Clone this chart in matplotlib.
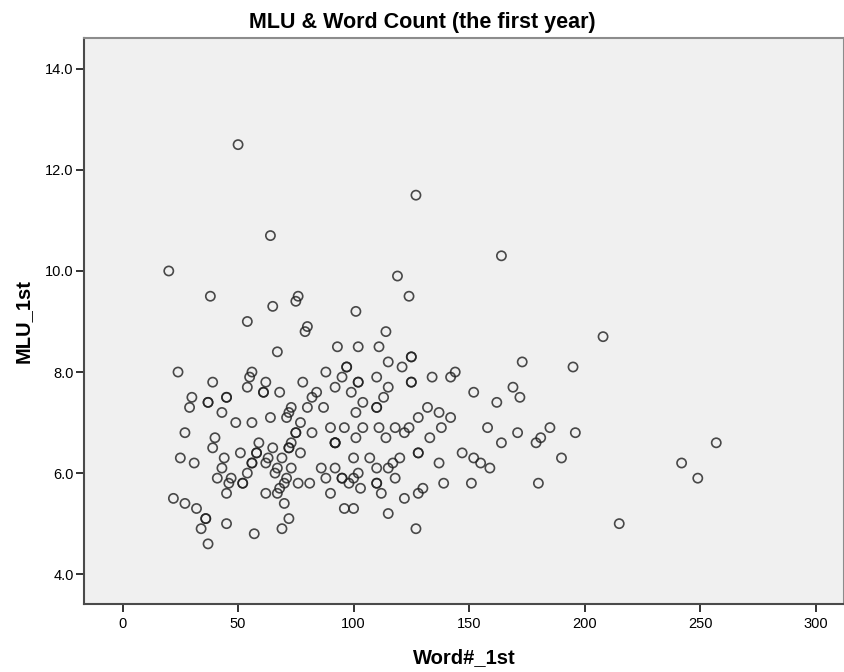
import numpy as np
import matplotlib
matplotlib.use("Agg")
import matplotlib.pyplot as plt
from matplotlib.ticker import FormatStrFormatter

plt.rcParams['font.family'] = ['Liberation Sans', 'DejaVu Sans']

title = "MLU & Word Count (the first year)"
x_label = "Word#_1st"
y_label = "MLU_1st"

# points, (word count, MLU)
word_count = [
    50, 64, 20, 38, 65, 76, 75, 54, 80, 79, 67, 93,
    127, 164, 119, 124, 101, 114, 102, 111, 115, 125, 125, 173,
    208, 195, 196, 190, 257, 242, 249, 215,
    24, 56, 55, 88, 39, 62, 78, 54, 61, 61, 68, 92, 84, 82, 30, 37, 37, 45, 45,
    29, 73, 72, 71, 80, 87, 43, 64, 49, 56, 77, 27, 75, 75, 82, 90, 40, 39, 59,
    65, 73, 72, 72, 92, 92, 92, 77, 25, 31, 44, 51, 58, 58, 63, 69, 56, 56, 62,
    43, 67, 73, 86, 92, 54, 66, 41, 47, 46, 52, 52, 71, 70, 76, 81, 88, 68, 45,
    62, 67, 90, 22, 27, 32, 70, 36, 36, 45, 72, 34, 57, 69, 37,
    121, 97, 97, 144, 142, 134, 110, 95, 102, 102, 125, 125, 99, 115, 152, 169,
    113, 172, 104, 162, 110, 110, 101, 132, 137, 128, 142, 96, 104, 111, 118,
    124, 122, 138, 158, 185, 101, 114, 133, 171, 181, 179, 164, 128, 128, 100,
    107, 120, 117, 115, 110, 147, 152, 155, 159, 137, 95, 95, 100, 102, 98, 103,
    110, 110, 118, 112, 122, 128, 130, 139, 151, 180, 96, 100, 115, 127,
]
mlu = [
    12.5, 10.7, 10.0, 9.5, 9.3, 9.5, 9.4, 9.0, 8.9, 8.8, 8.4, 8.5,
    11.5, 10.3, 9.9, 9.5, 9.2, 8.8, 8.5, 8.5, 8.2, 8.3, 8.3, 8.2,
    8.7, 8.1, 6.8, 6.3, 6.6, 6.2, 5.9, 5.0,
    8.0, 8.0, 7.9, 8.0, 7.8, 7.8, 7.8, 7.7, 7.6, 7.6, 7.6, 7.7, 7.6, 7.5, 7.5, 7.4, 7.4, 7.5, 7.5,
    7.3, 7.3, 7.2, 7.1, 7.3, 7.3, 7.2, 7.1, 7.0, 7.0, 7.0, 6.8, 6.8, 6.8, 6.8, 6.9, 6.7, 6.5, 6.6,
    6.5, 6.6, 6.5, 6.5, 6.6, 6.6, 6.6, 6.4, 6.3, 6.2, 6.3, 6.4, 6.4, 6.4, 6.3, 6.3, 6.2, 6.2, 6.2,
    6.1, 6.1, 6.1, 6.1, 6.1, 6.0, 6.0, 5.9, 5.9, 5.8, 5.8, 5.8, 5.9, 5.8, 5.8, 5.8, 5.9, 5.7, 5.6,
    5.6, 5.6, 5.6, 5.5, 5.4, 5.3, 5.4, 5.1, 5.1, 5.0, 5.1, 4.9, 4.8, 4.9, 4.6,
    8.1, 8.1, 8.1, 8.0, 7.9, 7.9, 7.9, 7.9, 7.8, 7.8, 7.8, 7.8, 7.6, 7.7, 7.6, 7.7,
    7.5, 7.5, 7.4, 7.4, 7.3, 7.3, 7.2, 7.3, 7.2, 7.1, 7.1, 6.9, 6.9, 6.9, 6.9,
    6.9, 6.8, 6.9, 6.9, 6.9, 6.7, 6.7, 6.7, 6.8, 6.7, 6.6, 6.6, 6.4, 6.4, 6.3,
    6.3, 6.3, 6.2, 6.1, 6.1, 6.4, 6.3, 6.2, 6.1, 6.2, 5.9, 5.9, 5.9, 6.0, 5.8, 5.7,
    5.8, 5.8, 5.9, 5.6, 5.5, 5.6, 5.7, 5.8, 5.8, 5.8, 5.3, 5.3, 5.2, 4.9,
]

x_ticks = [0, 50, 100, 150, 200, 250, 300]
y_ticks = [4.0, 6.0, 8.0, 10.0, 12.0, 14.0]

fig = plt.figure(figsize=(8.44, 6.72), dpi=100)
ax = fig.add_axes([84 / 844, 1 - 604 / 672, 760 / 844, 566 / 672])
ax.set_facecolor('#f0f0f0')

ax.scatter(word_count, mlu, s=44, facecolors='none', edgecolors='#1e1e1e',
           linewidths=1.2, alpha=0.8, zorder=3)

ax.set_xlim(-16.7, 312.3)
ax.set_ylim(3.41, 14.61)
ax.set_xticks(x_ticks)
ax.set_yticks(y_ticks)
ax.yaxis.set_major_formatter(FormatStrFormatter('%.1f'))
ax.tick_params(axis='both', direction='out', length=6, width=1.4, color='#333333',
               labelsize=10.5)
ax.tick_params(axis='x', pad=3.5)
ax.tick_params(axis='y', pad=1.5)

for side in ['left', 'bottom']:
    ax.spines[side].set_color('#4a4a4a')
    ax.spines[side].set_linewidth(1.5)
for side in ['top', 'right']:
    ax.spines[side].set_color('#8c8c8c')
    ax.spines[side].set_linewidth(1.5)

fig.text(0.5, 1 - 28 / 672, title, ha='center', va='baseline',
         fontsize=15.5, fontweight='bold')
ax.set_xlabel(x_label, fontsize=14.5, fontweight='bold', labelpad=12)
ax.set_ylabel(y_label, fontsize=14.5, fontweight='bold', labelpad=9)

fig.savefig('out.png', dpi=100)
